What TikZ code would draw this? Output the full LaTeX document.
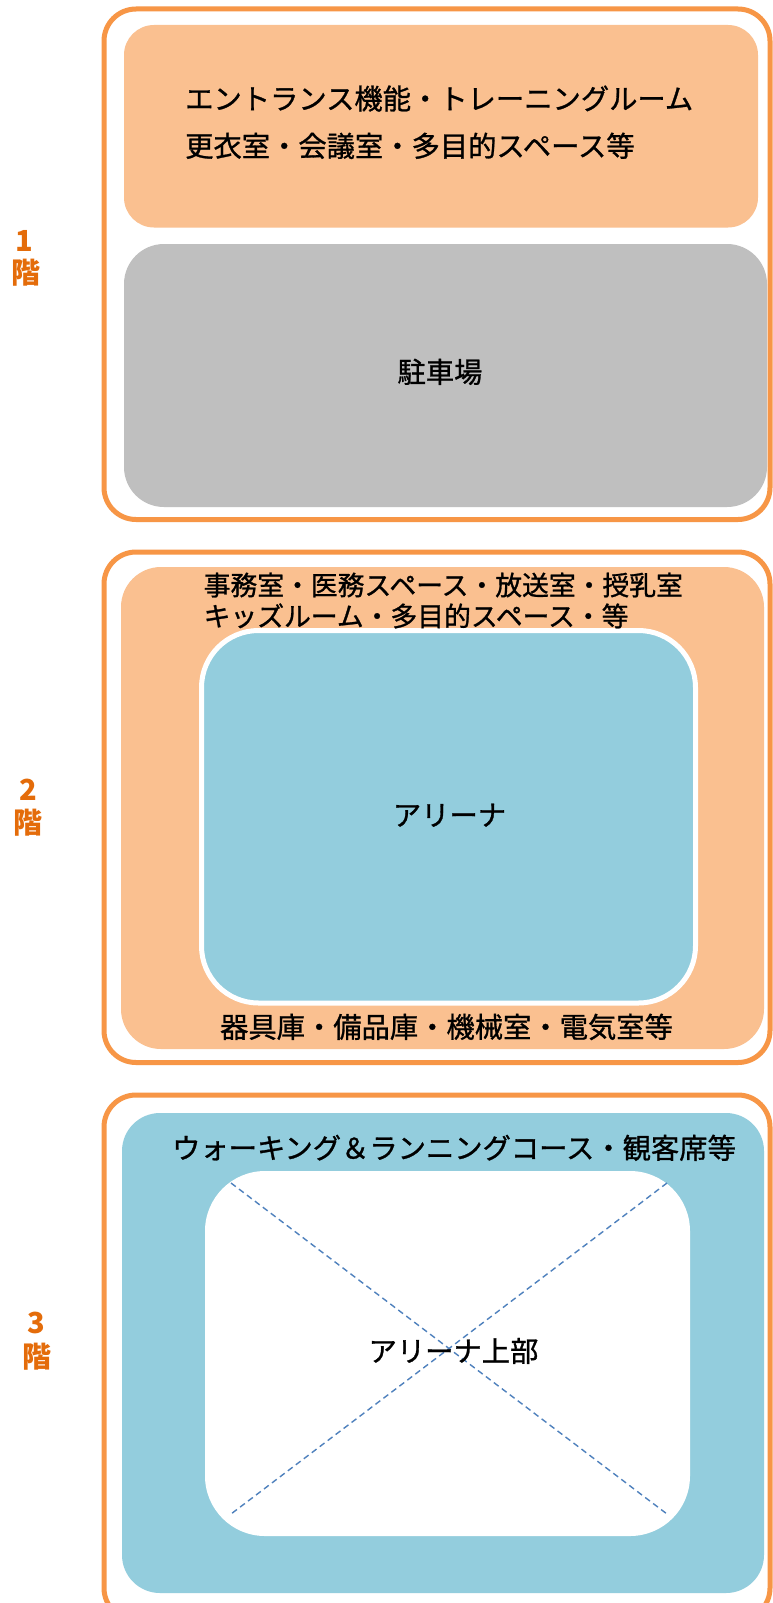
\documentclass[tikz,border=0pt]{standalone}
\usepackage{fontspec}
\newfontfamily\jp[FakeBold=1]{Noto Sans CJK JP}
\newfontfamily\jpl{Noto Sans CJK JP}
\definecolor{frameor}{HTML}{F79646}
\definecolor{lightor}{HTML}{FAC090}
\definecolor{grayfill}{HTML}{BFBFBF}
\definecolor{bluefill}{HTML}{93CDDD}
\definecolor{labelor}{HTML}{E46C0A}
\definecolor{dashblue}{HTML}{4F81BD}
\tikzset{
  floorframe/.style={draw=frameor, line width=5pt, rounded corners=32pt},
  roomtext/.style={font=\jp\fontsize{28.3}{30}\selectfont, inner sep=0pt, anchor=base},
  roomleft/.style={roomtext, anchor=base west},
  smallleft/.style={font=\jp\fontsize{26.8}{29}\selectfont, inner sep=0pt, anchor=base west},
  floorlabel/.style={font=\jpl\bfseries\fontsize{29}{31}\selectfont, text=labelor, inner sep=0pt, anchor=base},
  crossline/.style={draw=dashblue, line width=1.4pt, dash pattern=on 6pt off 4pt}
}
\begin{document}
\begin{tikzpicture}[x=1pt,y=-1pt]
\useasboundingbox (0,0) rectangle (773,1603);
\fill[white] (0,0) rectangle (773,1603);

% ---------- Floor 1 ----------
\draw[floorframe] (104,9) rectangle (770,519.5);
\fill[lightor, rounded corners=30pt] (124,25) rectangle (758,227.5);
\fill[grayfill, rounded corners=40pt] (124,244) rectangle (767,507);
\node[roomleft] (f1a) at (185,109.3) {エントランス機能・トレーニングルーム};
\node[roomleft] (f1b) at (185,156.6) {更衣室・会議室・多目的スペース等};
\node[roomtext] (park) at (440,382.6) {駐車場};
\node[floorlabel] (n1) at (24,251.5) {1};
\node[floorlabel] (k1) at (26.5,283.5) {階};

% ---------- Floor 2 ----------
\draw[floorframe] (104,552) rectangle (770,1062.5);
\fill[lightor, rounded corners=40pt] (121,567) rectangle (764,1049);
\filldraw[fill=bluefill, draw=white, line width=5pt, rounded corners=57pt] (201.5,630.5) rectangle (695.5,1003);
\node[smallleft] (f2a) at (203.5,595.2) {事務室・医務スペース・放送室・授乳室};
\node[smallleft] (f2b) at (203.5,626.2) {キッズルーム・多目的スペース・等};
\node[roomtext] (arena) at (449.5,825.6) {アリーナ};
\node[roomtext] (f2c) at (446.5,1037.6) {器具庫・備品庫・機械室・電気室等};
\node[floorlabel] (n2) at (28,800.5) {2};
\node[floorlabel] (k2) at (28,833) {階};

% ---------- Floor 3 ----------
\draw[floorframe] (104,1095) rectangle (770,1620);
\fill[bluefill, rounded corners=38pt] (122,1113) rectangle (764,1593);
\fill[white, rounded corners=60pt] (205,1171) rectangle (690,1536);
\coordinate (tl) at (231,1183);
\coordinate (tr) at (667,1183);
\coordinate (bl) at (231,1514);
\coordinate (br) at (667,1514);
\draw[crossline] (tl) -- (br);
\draw[crossline] (tr) -- (bl);
\node[roomtext] (f3a) at (454,1158.6) {ウォーキング＆ランニングコース・観客席等};
\node[roomtext] (upper) at (453.5,1361.6) {アリーナ上部};
\node[floorlabel] (n3) at (36,1333.5) {3};
\node[floorlabel] (k3) at (36.5,1367) {階};
\end{tikzpicture}
\end{document}
